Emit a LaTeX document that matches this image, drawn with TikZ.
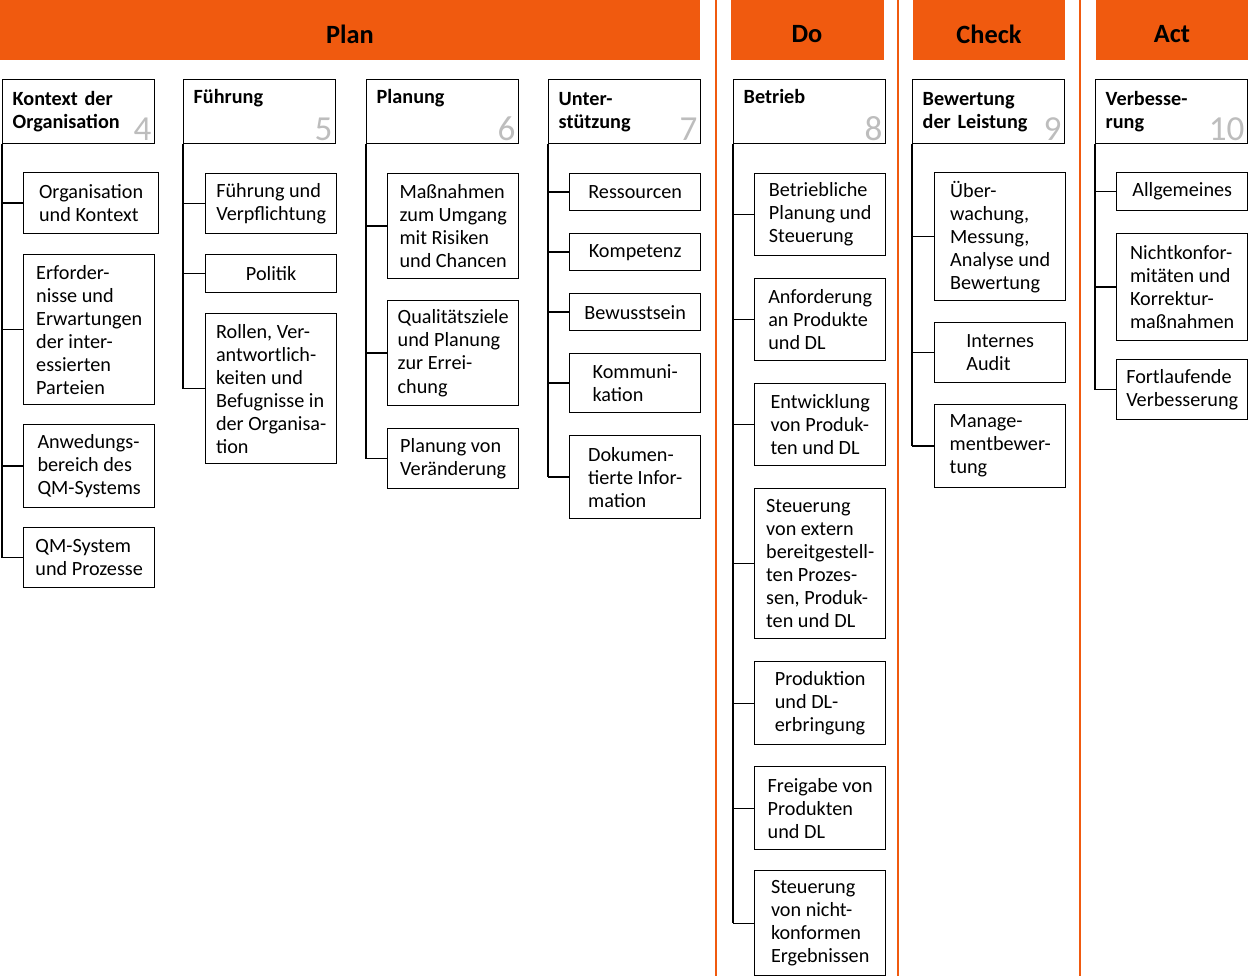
\documentclass[tikz,border=0pt]{standalone}
\usepackage{fontspec}
\setmainfont{Carlito}
\usetikzlibrary{positioning,calc}
\definecolor{pdcaorange}{HTML}{F05A0F}
\definecolor{numgray}{HTML}{BDBDBD}

\newcommand{\headbox}[4]{% name, x, number, text
    \node[head] (#1) at (#2,79) {#4};
    \node[number, anchor=south east] (#1n) at (#1.south east) {#3};
}
\newcommand{\leafbox}[6][]{% name, x, top, bottom, text
    \node[leaf, minimum height={(#5-#4)*0.02cm}, #1] (#2) at (#3,#4) {#6};
}

\begin{document}
\begin{tikzpicture}[
    x=0.02cm, y=-0.02cm,
    every node/.style={font=\fontsize{11.5}{13.1}\selectfont},
    head/.style={draw, line width=0.8pt, anchor=north west, align=left, minimum height=1.28cm,
        text width=2.64cm, inner xsep=0.2cm, font=\fontsize{11.5}{13.1}\selectfont\bfseries},
    leaf/.style={draw, line width=0.8pt, anchor=north west, align=left,
        minimum width=2.62cm, inner xsep=0.18cm},
    wide/.style={minimum width=2.7cm},
    number/.style={text=numgray, font=\fontsize{20}{20}\selectfont, inner sep=2pt},
    tree/.style={line width=0.8pt}
]
    \useasboundingbox (0,0) rectangle (1248,976);

    % header bars
    \fill[pdcaorange] (0,0) rectangle (700,60);
    \fill[pdcaorange] (731,0) rectangle (884,60);
    \fill[pdcaorange] (913,0) rectangle (1065,60);
    \fill[pdcaorange] (1096,0) rectangle (1248,60);
    \node (plan) at (350,34) {\fontsize{15}{18}\selectfont\bfseries Plan};
    \node (do) at (807,34) {\fontsize{15}{18}\selectfont\bfseries Do};
    \node (check) at (989,34) {\fontsize{15}{18}\selectfont\bfseries Check};
    \node (act) at (1172,34) {\fontsize{15}{18}\selectfont\bfseries Act};

    % separators
    \draw[pdcaorange, line width=1pt] (716,0) -- (716,976);
    \draw[pdcaorange, line width=1pt] (898,0) -- (898,976);
    \draw[pdcaorange, line width=1pt] (1080,0) -- (1080,976);

    % column heads
    \headbox{k4}{2}{4}{Kontext der\\Organisation}
    \headbox{k5}{183}{5}{Führung\\\strut}
    \headbox{k6}{366}{6}{Planung\\\strut}
    \headbox{k7}{548}{7}{Unter-\\stützung}
    \headbox{k8}{733}{8}{Betrieb\\\strut}
    \headbox{k9}{912}{9}{Bewertung\\der Leistung}
    \headbox{k10}{1095}{10}{Verbesse-\\rung}

    % Kontext der Organisation
    \leafbox[wide]{a1}{23}{172}{233}{Organisation\\und Kontext}
    \leafbox{a2}{23}{254}{404}{Erforder-\\nisse und\\Erwartungen\\der inter-\\essierten\\Parteien}
    \leafbox{a3}{23}{424}{507}{Anwedungs-\\bereich des\\QM-Systems}
    \leafbox{a4}{23}{527}{587}{QM-System\\und Prozesse}
    % Führung
    \leafbox{b1}{205}{173}{233}{Führung und\\Verpflichtung}
    \leafbox{b2}{205}{254}{292}{Politik}
    \leafbox{b3}{205}{313}{463}{Rollen, Ver-\\antwortlich-\\keiten und\\Befugnisse in\\der Organisa-\\tion}
    % Planung
    \leafbox{c1}{387}{173}{278}{Maßnahmen\\zum Umgang\\mit Risiken\\und Chancen}
    \leafbox{c2}{387}{300}{405}{Qualitätsziele\\und Planung\\zur Errei-\\chung}
    \leafbox{c3}{387}{428}{488}{Planung von\\Veränderung}
    % Unterstützung
    \leafbox{d1}{569}{173}{210}{Ressourcen}
    \leafbox{d2}{569}{233}{270}{Kompetenz}
    \leafbox{d3}{569}{293}{330}{Bewusstsein}
    \leafbox{d4}{569}{353}{412}{Kommuni-\\kation}
    \leafbox{d5}{569}{435}{518}{Dokumen-\\tierte Infor-\\mation}
    % Betrieb
    \leafbox{e1}{754}{173}{255}{Betriebliche\\Planung und\\Steuerung}
    \leafbox{e2}{754}{278}{360}{Anforderung\\an Produkte\\und DL}
    \leafbox{e3}{754}{383}{465}{Entwicklung\\von Produk-\\ten und DL}
    \leafbox{e4}{754}{488}{638}{Steuerung\\von extern\\bereitgestell-\\ten Prozes-\\sen, Produk-\\ten und DL}
    \leafbox{e5}{754}{661}{744}{Produktion\\und DL-\\erbringung}
    \leafbox{e6}{754}{766}{849}{Freigabe von\\Produkten\\und DL}
    \leafbox{e7}{754}{870}{975}{Steuerung\\von nicht-\\konformen\\Ergebnissen}
    % Bewertung der Leistung
    \leafbox{f1}{934}{172}{300}{Über-\\wachung,\\Messung,\\Analyse und\\Bewertung}
    \leafbox{f2}{934}{322}{382}{Internes\\Audit}
    \leafbox{f3}{934}{404}{487}{Manage-\\mentbewer-\\tung}
    % Verbesserung
    \leafbox{g1}{1116}{172}{210}{Allgemeines}
    \leafbox{g2}{1116}{233}{340}{Nichtkonfor-\\mitäten und\\Korrektur-\\maßnahmen}
    \leafbox{g3}{1116}{359}{419}{Fortlaufende\\Verbesserung}

    % tree lines
    \foreach \h/\last/\list in {k4/a4/{a1,a2,a3,a4}, k5/b3/{b1,b2,b3}, k6/c3/{c1,c2,c3},
        k7/d5/{d1,d2,d3,d4,d5}, k8/e7/{e1,e2,e3,e4,e5,e6,e7}, k9/f3/{f1,f2,f3}, k10/g3/{g1,g2,g3}} {
        \draw[tree] (\h.south west) -- (\h.south west |- \last.west);
        \foreach \c in \list
            \draw[tree] (\h.south west |- \c.west) -- (\c.west);
    }
\end{tikzpicture}
\end{document}
